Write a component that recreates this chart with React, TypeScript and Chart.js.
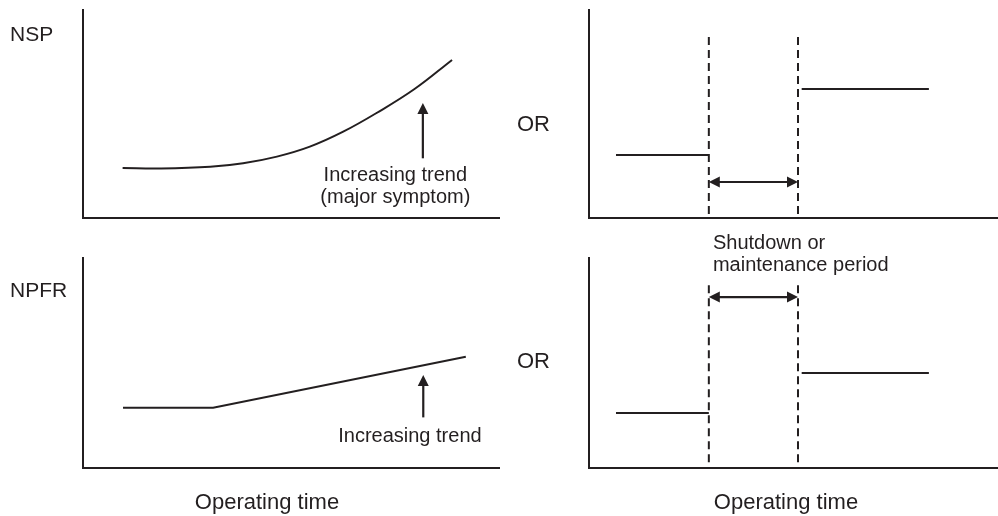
import React, { useEffect, useRef } from 'react';
import { Chart, registerables } from 'chart.js';

Chart.register(...registerables);

const INK = '#231f20';
const FONT = '"Liberation Sans", Arial, Helvetica, sans-serif';

// ---- Data (relative units: operating time 0-100, parameter 0-100) ----
// Top-left: NSP gradual increase (major symptom)
const NSP_TIME = [9.5, 18.5, 30.5, 38.4, 46.5, 54.4, 62.4, 70.5, 79.5, 88.5];
const NSP_VALUE = [24, 23.8, 24.6, 26.3, 29.5, 34.3, 41.5, 50.6, 62, 76];
const NSP_ARROW = [81.5, 28.7, 55.3]; // time, from, to

// Bottom-left: NPFR flat then linear increase
const NPFR_TIME = [9.6, 31.2, 91.8];
const NPFR_VALUE = [28.7, 28.7, 53];
const NPFR_ARROW = [81.6, 24.1, 44.3];

// Right column: step change across shutdown / maintenance period
const STEP_BEFORE_TIME = [6.6, 29.3];
const STEP_AFTER_TIME = [52, 83.1];
const NSP_STEP = [30.3, 62]; // before, after
const NPFR_STEP = [26.2, 45.2];
const SHUTDOWN_BOUNDS = [29.3, 51.1];
const SHUTDOWN_TOP = 87;
const NSP_PERIOD_ARROW_LEVEL = 17.3;
const NPFR_PERIOD_ARROW_LEVEL = 81.4;

const solid = (xs: number[], ys: number[], extra: any = {}) => ({
  data: xs.map((x, i) => ({ x, y: ys[i] })),
  borderColor: INK,
  borderWidth: 2,
  pointRadius: 0,
  fill: false,
  tension: 0,
  ...extra,
});

const dashed = (x: number) => ({
  data: [
    { x, y: SHUTDOWN_TOP },
    { x, y: 0 },
  ],
  borderColor: INK,
  borderWidth: 2,
  borderDash: [8, 5],
  pointRadius: 0,
  fill: false,
});

function drawArrow(ctx: CanvasRenderingContext2D, x1: number, y1: number, x2: number, y2: number, both: boolean) {
  const L = 11;
  const W = 5.5;
  const ang = Math.atan2(y2 - y1, x2 - x1);
  const c = Math.cos(ang);
  const s = Math.sin(ang);
  const sx = both ? x1 + c * L * 0.6 : x1;
  const sy = both ? y1 + s * L * 0.6 : y1;
  ctx.beginPath();
  ctx.lineWidth = 2.2;
  ctx.strokeStyle = INK;
  ctx.moveTo(sx, sy);
  ctx.lineTo(x2 - c * L * 0.6, y2 - s * L * 0.6);
  ctx.stroke();
  const head = (tx: number, ty: number, dc: number, ds: number) => {
    ctx.beginPath();
    ctx.moveTo(tx, ty);
    ctx.lineTo(tx - L * dc + W * ds, ty - L * ds - W * dc);
    ctx.lineTo(tx - L * dc - W * ds, ty - L * ds + W * dc);
    ctx.closePath();
    ctx.fillStyle = INK;
    ctx.fill();
  };
  head(x2, y2, c, s);
  if (both) head(x1, y1, -c, -s);
}

const annotPlugin = {
  id: 'annot',
  afterDraw(chart: any, _args: any, opts: any) {
    const { ctx, chartArea, scales } = chart;
    const xs = scales.x;
    const ys = scales.y;
    ctx.save();
    (opts.arrows || []).forEach((a: any) => {
      drawArrow(
        ctx,
        xs.getPixelForValue(a.x1),
        ys.getPixelForValue(a.y1),
        xs.getPixelForValue(a.x2),
        ys.getPixelForValue(a.y2),
        !!a.both
      );
    });
    (opts.texts || []).forEach((t: any) => {
      ctx.font = `${t.size}px ${FONT}`;
      ctx.fillStyle = INK;
      ctx.textAlign = t.align || 'left';
      ctx.textBaseline = 'alphabetic';
      let px: number;
      let py: number;
      if (t.area) {
        px = chartArea.left + t.dx;
        py = (t.fromBottom ? chartArea.bottom : chartArea.top) + t.dy;
      } else {
        px = xs.getPixelForValue(t.x);
        py = ys.getPixelForValue(t.y);
      }
      const lines: string[] = t.lines;
      for (let i = 0; i < lines.length; i++) {
        ctx.fillText(lines[i], px, py + i * (t.gap || 0));
      }
    });
    ctx.restore();
  },
};

const axis = () => ({
  type: 'linear',
  min: 0,
  max: 100,
  grid: { display: false, drawTicks: false },
  ticks: { display: false },
  border: { display: true, width: 2, color: INK },
});

function makeConfig(datasets: any[], padding: any, annot: any) {
  return {
    type: 'line',
    data: { datasets },
    options: {
      responsive: false,
      maintainAspectRatio: false,
      animation: false,
      events: [],
      layout: { padding },
      plugins: {
        legend: { display: false },
        tooltip: { enabled: false },
        annot,
      },
      scales: { x: axis(), y: axis() },
    },
    plugins: [annotPlugin],
  } as any;
}

const PANELS = [
  {
    key: 'tl',
    left: 0,
    top: 0,
    width: 500,
    height: 240,
    config: makeConfig(
      [solid(NSP_TIME, NSP_VALUE, { tension: 0.4 })],
      { left: 83, top: 10, right: 0, bottom: 22 },
      {
        arrows: [{ x1: NSP_ARROW[0], y1: NSP_ARROW[1], x2: NSP_ARROW[0], y2: NSP_ARROW[2] }],
        texts: [
          { area: true, dx: -73, dy: 31, size: 21, lines: ['NSP'] },
          { x: 74.9, y: 17.8, size: 20, align: 'center', gap: 22.5, lines: ['Increasing trend', '(major symptom)'] },
        ],
      }
    ),
  },
  {
    key: 'tr',
    left: 500,
    top: 0,
    width: 498,
    height: 240,
    config: makeConfig(
      [
        solid(STEP_BEFORE_TIME, [NSP_STEP[0], NSP_STEP[0]]),
        solid(STEP_AFTER_TIME, [NSP_STEP[1], NSP_STEP[1]]),
        dashed(SHUTDOWN_BOUNDS[0]),
        dashed(SHUTDOWN_BOUNDS[1]),
      ],
      { left: 89, top: 10, right: 0, bottom: 22 },
      {
        arrows: [
          {
            x1: SHUTDOWN_BOUNDS[0],
            y1: NSP_PERIOD_ARROW_LEVEL,
            x2: SHUTDOWN_BOUNDS[1],
            y2: NSP_PERIOD_ARROW_LEVEL,
            both: true,
          },
        ],
        texts: [{ area: true, dx: -72, dy: 121, size: 22, lines: ['OR'] }],
      }
    ),
  },
  {
    key: 'bl',
    left: 0,
    top: 240,
    width: 500,
    height: 276,
    config: makeConfig(
      [solid(NPFR_TIME, NPFR_VALUE)],
      { left: 83, top: 18, right: 0, bottom: 48 },
      {
        arrows: [{ x1: NPFR_ARROW[0], y1: NPFR_ARROW[1], x2: NPFR_ARROW[0], y2: NPFR_ARROW[2] }],
        texts: [
          { area: true, dx: -73, dy: 39, size: 21, lines: ['NPFR'] },
          { x: 78.4, y: 12.5, size: 20, align: 'center', lines: ['Increasing trend'] },
          { area: true, fromBottom: true, dx: 184, dy: 41, size: 22, align: 'center', lines: ['Operating time'] },
        ],
      }
    ),
  },
  {
    key: 'br',
    left: 500,
    top: 220,
    width: 498,
    height: 296,
    config: makeConfig(
      [
        solid(STEP_BEFORE_TIME, [NPFR_STEP[0], NPFR_STEP[0]]),
        solid(STEP_AFTER_TIME, [NPFR_STEP[1], NPFR_STEP[1]]),
        dashed(SHUTDOWN_BOUNDS[0]),
        dashed(SHUTDOWN_BOUNDS[1]),
      ],
      { left: 89, top: 38, right: 0, bottom: 48 },
      {
        arrows: [
          {
            x1: SHUTDOWN_BOUNDS[0],
            y1: NPFR_PERIOD_ARROW_LEVEL,
            x2: SHUTDOWN_BOUNDS[1],
            y2: NPFR_PERIOD_ARROW_LEVEL,
            both: true,
          },
        ],
        texts: [
          { area: true, dx: -72, dy: 110, size: 22, lines: ['OR'] },
          { x: 30.3, y: 104.3, size: 20, gap: 22.5, lines: ['Shutdown or', 'maintenance period'] },
          { area: true, fromBottom: true, dx: 197, dy: 41, size: 22, align: 'center', lines: ['Operating time'] },
        ],
      }
    ),
  },
];

function PanelChart({ left, top, width, height, config }: any) {
  const ref = useRef<HTMLCanvasElement>(null);
  useEffect(() => {
    const chart = new Chart(ref.current as HTMLCanvasElement, config);
    return () => chart.destroy();
  }, [config]);
  return (
    <canvas
      ref={ref}
      width={width}
      height={height}
      style={{ position: 'absolute', left, top, width, height, display: 'block' }}
    />
  );
}

export default function App() {
  return (
    <div
      style={{
        position: 'absolute',
        left: 0,
        top: 0,
        width: 998,
        height: 516,
        background: '#ffffff',
        overflow: 'hidden',
      }}
    >
      {PANELS.map((p) => (
        <PanelChart key={p.key} {...p} />
      ))}
    </div>
  );
}
